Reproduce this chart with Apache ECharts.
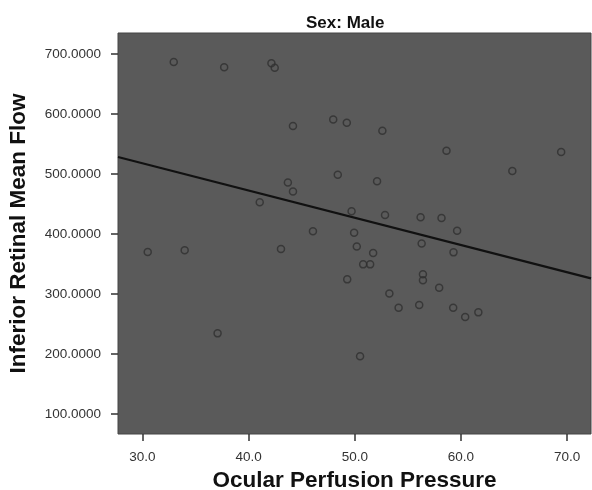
<!DOCTYPE html>
<html>
<head>
<meta charset="utf-8">
<script src="https://cdn.jsdelivr.net/npm/echarts@6/dist/echarts.min.js"></script>
<style>html,body{margin:0;padding:0;background:#fff;}#c{width:592px;height:490px;}</style>
</head>
<body>
<div id="c"></div>
<script>
const xValues = [32.95,37.7,42.15,42.46,44.18,47.97,49.25,52.6,58.64,69.44,64.84,43.7,44.18,41.05,48.4,52.1,49.7,52.85,56.2,58.17,59.64,46.06,49.94,50.19,56.3,51.73,50.79,51.45,59.3,30.5,33.98,43.05,49.29,56.42,56.42,57.95,53.26,54.13,56.07,59.27,60.4,61.64,37.08,50.5];
const yValues = [686.7,677.8,684.4,677,580,591,585.5,572.2,538.9,536.7,505,486,471,452.8,498.9,487.8,437.8,431.7,427.8,426.7,405.5,404.5,402,379,384,368.3,349.4,349.4,369.4,370,372.8,375,324.4,332.8,322.8,310.5,301,277.2,281.7,277.2,261.7,269.4,234.4,196.1];
const fitX = [27.7, 72.25];
const fitY = [528.3, 326];
const xTicks = [30,40,50,60,70];
const yTicks = [100,200,300,400,500,600,700];

const chart = echarts.init(document.getElementById('c'));
const ff = '"Liberation Sans", Arial, sans-serif';
chart.setOption({
  animation: false,
  title: {
    text: 'Sex: Male', left: 301, top: 10,
    textStyle: {fontFamily: ff, fontSize: 17, fontWeight: 'bold', color: '#111'}
  },
  grid: {left: 118, right: 1, top: 33, bottom: 56, outerBoundsMode: 'none', containLabel: false, show: true, backgroundColor: '#5a5a5a', borderColor: '#454545', borderWidth: 1},
  xAxis: {
    type: 'value', min: 27.7, max: 72.25,
    name: 'Ocular Perfusion Pressure', nameLocation: 'middle', nameGap: 34,
    nameTextStyle: {fontFamily: ff, fontSize: 22.5, fontWeight: 'bold', color: '#111'},
    splitLine: {show: false},
    axisLine: {show: false},
    axisTick: {show: true, length: 7, lineStyle: {color: '#333', width: 1.5}, customValues: xTicks},
    axisLabel: {fontFamily: ff, fontSize: 13.5, color: '#333', margin: 16, customValues: xTicks, formatter: v => v.toFixed(1)}
  },
  yAxis: {
    type: 'value', min: 66.7, max: 735,
    name: 'Inferior Retinal Mean Flow', nameLocation: 'middle', nameGap: 88, nameRotate: 90,
    nameTextStyle: {fontFamily: ff, fontSize: 22.5, fontWeight: 'bold', color: '#111'},
    splitLine: {show: false},
    axisLine: {show: false},
    axisTick: {show: true, length: 7, lineStyle: {color: '#333', width: 1.5}, customValues: yTicks},
    axisLabel: {fontFamily: ff, fontSize: 13.5, color: '#333', margin: 17, customValues: yTicks, formatter: v => v.toFixed(4)}
  },
  series: [
    {
      type: 'scatter',
      data: xValues.map((x, i) => [x, yValues[i]]),
      symbol: 'circle', symbolSize: 7,
      itemStyle: {color: 'rgba(0,0,0,0)', borderColor: '#303030', borderWidth: 1.5},
      silent: true
    },
    {
      type: 'line',
      data: fitX.map((x, i) => [x, fitY[i]]),
      showSymbol: false,
      lineStyle: {color: '#111', width: 2.2},
      silent: true
    }
  ]
});
</script>
</body>
</html>
